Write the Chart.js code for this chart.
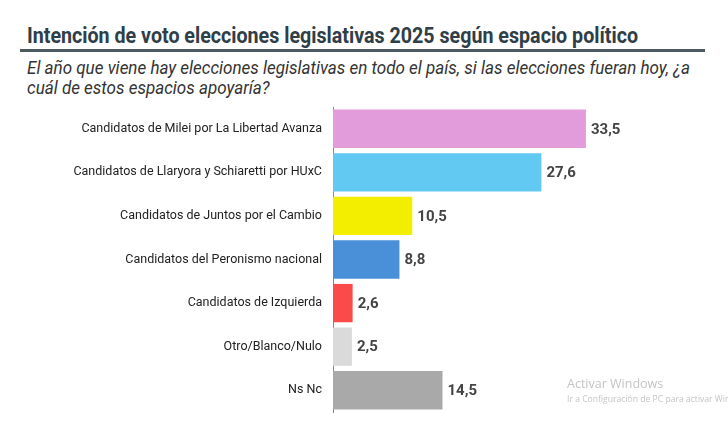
<!DOCTYPE html>
<html>
<head>
<meta charset="utf-8">
<script src="https://cdn.jsdelivr.net/npm/chart.js@4"></script>
<style>
  body { margin: 0; background: #fff; }
  #wrap { position: relative; width: 728px; height: 422px; overflow: hidden; font-family: Roboto, sans-serif; }
  .fit { position: absolute; white-space: nowrap; transform-origin: 0 0; }
  #title { left: 27px; top: 23px; font-size: 22px; font-weight: bold; color: #2f3e47; }
  #rule { position: absolute; left: 20px; top: 49px; width: 685px; height: 3px; background: #4d5a60; }
  #sub1, #sub2 { left: 27px; font-size: 18px; font-style: italic; color: #333; }
  #sub1 { top: 57px; }
  #sub2 { top: 77px; }
  #chart { position: absolute; left: 0; top: 0; }
  #wm1 { position: absolute; left: 567px; top: 375px; font-family: "Open Sans", sans-serif; font-size: 12.5px; color: #c4c4c4; white-space: nowrap; }
  #wm2 { position: absolute; left: 567px; top: 393px; font-family: "Open Sans", sans-serif; font-size: 8.6px; color: #c4c4c4; white-space: nowrap; }
</style>
</head>
<body>
<div id="wrap">
  <div id="title" class="fit">Intención de voto elecciones legislativas 2025 según espacio político</div>
  <div id="rule"></div>
  <div id="sub1" class="fit">El año que viene hay elecciones legislativas en todo el país, si las elecciones fueran hoy, ¿a</div>
  <div id="sub2" class="fit">cuál de estos espacios apoyaría?</div>
  <canvas id="chart" width="728" height="422"></canvas>
  <div id="wm1">Activar Windows</div>
  <div id="wm2">Ir a Configuración de PC para activar Windows</div>
</div>
<script>
// datos
const categorias = [
  'Candidatos de Milei por La Libertad Avanza',
  'Candidatos de Llaryora y Schiaretti por HUxC',
  'Candidatos de Juntos por el Cambio',
  'Candidatos del Peronismo nacional',
  'Candidatos de Izquierda',
  'Otro/Blanco/Nulo',
  'Ns Nc'
];
const valores = [33.5, 27.6, 10.5, 8.8, 2.6, 2.5, 14.5];
const colores = ['#e39cdb', '#62c9f2', '#f3ee00', '#4a90d9', '#fb4a4a', '#dadada', '#a9a9a9'];

// texto condensado: encoger horizontalmente hasta el ancho del original
const squeeze = (el, target) => {
  const w = el.getBoundingClientRect().width;
  const s = target / w;
  el.style.transform = 'scaleX(' + s + ')';
  return s;
};
squeeze(document.getElementById('title'), 611);
const s = squeeze(document.getElementById('sub1'), 663);
document.getElementById('sub2').style.transform = 'scaleX(' + s + ')';

// etiquetas de valor al final de cada barra
const valueLabels = {
  id: 'valueLabels',
  afterDatasetsDraw(chart) {
    const ctx = chart.ctx;
    const meta = chart.getDatasetMeta(0);
    ctx.save();
    ctx.font = 'bold 15px Roboto, sans-serif';
    ctx.fillStyle = '#444';
    ctx.textBaseline = 'middle';
    meta.data.forEach((bar, i) => {
      const txt = valores[i].toFixed(1).replace('.', ',');
      ctx.fillText(txt, bar.x + 5, bar.y + 1);
    });
    ctx.restore();
  }
};

new Chart(document.getElementById('chart'), {
  type: 'bar',
  data: {
    labels: categorias,
    datasets: [{
      data: valores,
      backgroundColor: colores,
      barPercentage: 0.88,
      categoryPercentage: 1
    }]
  },
  options: {
    indexAxis: 'y',
    responsive: false,
    animation: false,
    layout: { padding: { top: 107, bottom: 10, right: 93, left: 0 } },
    plugins: { legend: { display: false }, tooltip: { enabled: false } },
    scales: {
      x: { display: false, min: 0, max: 40 },
      y: {
        afterFit(scale) {
          scale.width = 333;
          scale.paddingTop = 0;
          scale.paddingBottom = 0;
        },
        grid: { display: false, drawTicks: false },
        border: { display: true, color: '#888', width: 1 },
        ticks: {
          padding: 11,
          color: '#222',
          font: { family: 'Roboto, sans-serif', size: 12.5 }
        }
      }
    }
  },
  plugins: [valueLabels]
});
</script>
</body>
</html>
